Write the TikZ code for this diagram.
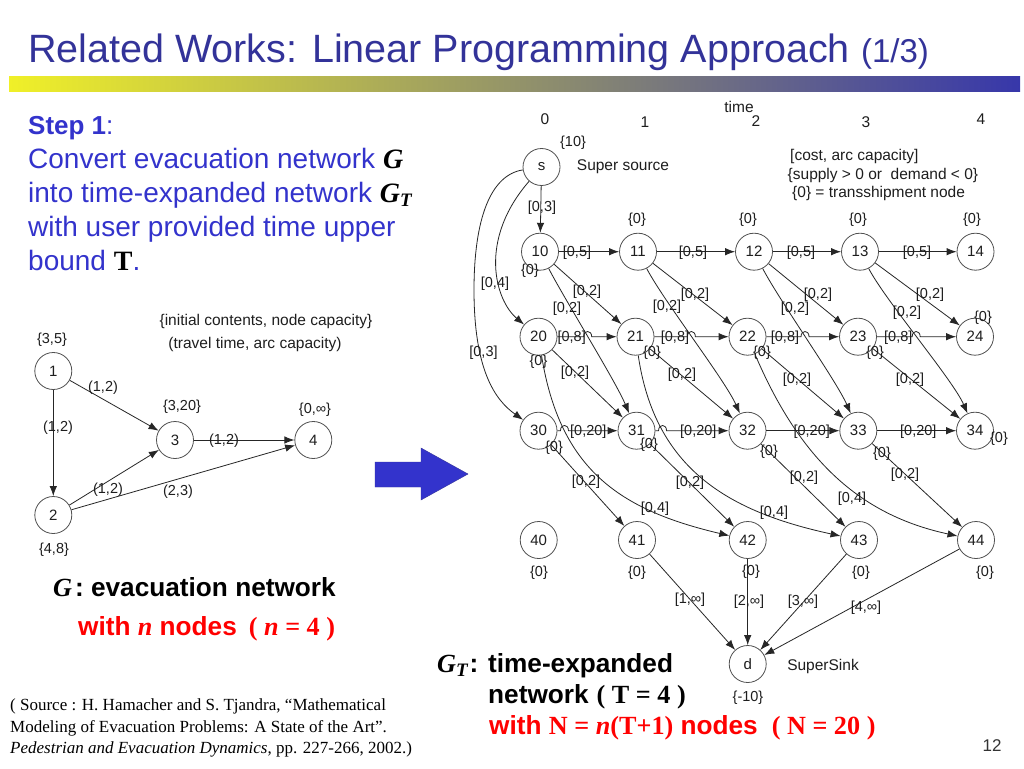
\documentclass[tikz,border=0pt]{standalone}
\usepackage{fontspec}
\setmainfont{Liberation Sans}
\newfontfamily\tms{Liberation Serif}
\usetikzlibrary{arrows.meta,calc,intersections}
\definecolor{tblue}{RGB}{51,51,153}
\definecolor{sblue}{RGB}{51,51,204}
\definecolor{gtext}{RGB}{30,30,30}
\definecolor{ncirc}{RGB}{80,80,80}
\definecolor{bred}{RGB}{255,0,0}
\definecolor{ybar}{RGB}{240,240,40}
\definecolor{mbar}{RGB}{175,175,150}
\definecolor{bbar}{RGB}{55,55,170}
\newcommand\myfs[1]{\fontsize{#1pt}{#1pt}\selectfont}
\newcommand\lb[3]{\node[lab] (#1) at (#2) {#3};}
\newcommand\GTsym{{\color{black}\tms\bfseries\itshape G\raisebox{-0.35ex}{\myfs{19}T}}}
\begin{document}
\begin{tikzpicture}[x=1pt,y=-1pt,
  nd/.style={circle,draw=ncirc,line width=0.8pt,minimum size=37pt,inner sep=0pt,font=\myfs{15},text=gtext},
  lab/.style={font=\myfs{14.5},text=gtext,inner sep=0.5pt},
  note/.style={font=\myfs{15.5},text=gtext,inner sep=0pt},
  arr/.style={-{Latex[length=10pt,width=7.5pt]},line width=0.8pt,draw=black!85},
  big/.style={anchor=base west,inner sep=0pt}]
\useasboundingbox (0,0) rectangle (1024,768);
\fill[white] (0,0) rectangle (1024,768);

% ---------- title ----------
\node[big,text=tblue,font=\myfs{39.5}] (title) at (28,63) {Related Works: Linear Programming Approach {\myfs{33}(1/3)}};
\shade[left color=ybar, middle color=mbar, right color=bbar] (9,76) rectangle (1020,91);

% ---------- step text ----------
\node[big,text=sblue,font=\myfs{26}] (step) at (28,134) {\textbf{Step 1}:};
\node[big,text=sblue,font=\myfs{28}] (b1) at (28,168) {Convert evacuation network {\color{black}\tms\bfseries\itshape G}};
\node[big,text=sblue,font=\myfs{28}] (b2) at (28,202) {into time-expanded network \GTsym};
\node[big,text=sblue,font=\myfs{28}] (b3) at (28,236) {with user provided time upper};
\node[big,text=sblue,font=\myfs{28}] (b4) at (28,270) {bound {\color{black}\tms\bfseries T}.};

% ---------- small graph G ----------
\node[nd] (g1) at (53.3,371) {1};
\node[nd] (g2) at (53.3,515) {2};
\node[nd] (g3) at (175,440) {3};
\node[nd] (g4) at (313.3,440) {4};
\draw[arr] (g1) -- (g2);
\draw[arr] (g1) -- (g3);
\draw[arr] (g3) -- (g4);
\draw[arr] (g2) -- (g3);
\draw[arr] (g2) -- (g4);
\node[note] (leg1) at (266,321) {\{initial contents, node capacity\}};
\node[note] (leg2) at (255,344) {(travel time, arc capacity)};
\lb{c1}{52,340}{\{3,5\}}
\lb{c2}{54,550}{\{4,8\}}
\lb{c3}{182,407}{\{3,20\}}
\lb{c4}{315,410}{\{0,∞\}}
\lb{e13}{103,388}{(1,2)}
\lb{e12}{58,428}{(1,2)}
\lb{e34}{224,441}{(1,2)}
\lb{e23}{108,490}{(1,2)}
\lb{e24}{178,492}{(2,3)}

% ---------- blue arrow ----------
\fill[sblue,draw=tblue] (375,462) -- (421,462) -- (421,448) -- (468,474) -- (421,500) -- (421,487) -- (375,487) -- cycle;

% ---------- time-expanded network ----------
\node[nd] (s) at (541.5,167) {s};
\node[nd] (n10) at (540,251.7) {10};
\node[nd] (n11) at (638,251.7) {11};
\node[nd] (n12) at (754,251.7) {12};
\node[nd] (n13) at (860,251.7) {13};
\node[nd] (n14) at (975.5,251.7) {14};
\node[nd] (n20) at (538.5,336.7) {20};
\node[nd] (n21) at (635.5,336.7) {21};
\node[nd] (n22) at (747.5,336.7) {22};
\node[nd] (n23) at (858,336.7) {23};
\node[nd] (n24) at (975,336.7) {24};
\node[nd] (n30) at (538.5,430.7) {30};
\node[nd] (n31) at (636.5,430.7) {31};
\node[nd] (n32) at (747.5,430.7) {32};
\node[nd] (n33) at (858.3,430.7) {33};
\node[nd] (n34) at (975,430.7) {34};
\node[nd] (n40) at (538.7,540) {40};
\node[nd] (n41) at (637,540) {41};
\node[nd] (n42) at (747.7,540) {42};
\node[nd] (n43) at (859,540) {43};
\node[nd] (n44) at (976,540) {44};
\node[nd] (d) at (747.7,664) {d};

% source arcs
\draw[arr] (s) -- (n10);
\draw[arr] (s) .. controls (478,240) and (495,300) .. (n20);
\draw[arr] (s) .. controls (490,175) and (474,220) .. (474,290) .. controls (474,370) and (495,400) .. (n30);

% row 1 holdover
\draw[arr] (n10) -- (n11);
\draw[arr] (n11) -- (n12);
\draw[arr] (n12) -- (n13);
\draw[arr] (n13) -- (n14);

% skip curves (named for bridges)
\draw[arr,name path=k1] (n10) .. controls (565,300) and (615,380) .. (n31);
\draw[arr,name path=k2] (n11) .. controls (663,300) and (725,380) .. (n32);
\draw[arr,name path=k3] (n12) .. controls (779,300) and (836,380) .. (n33);
\draw[arr,name path=k4] (n13) .. controls (885,300) and (953,380) .. (n34);
\draw[arr,name path=k5] (n20) .. controls (560,470) and (620,510) .. (n42);
\draw[arr,name path=k6] (n21) .. controls (655,470) and (730,512) .. (n43);
\draw[arr] (n22) .. controls (800,460) and (860,515) .. (n44);

\path[name path=h1] (n20) -- (n21);
\path[name path=h2] (n21) -- (n22);
\path[name path=h3] (n22) -- (n23);
\path[name path=h4] (n23) -- (n24);
\path[name path=h5] (n30) -- (n31);
\path[name path=h6] (n31) -- (n32);
\path[name intersections={of=k1 and h1,by=X1}];
\path[name intersections={of=k2 and h2,by=X2}];
\path[name intersections={of=k3 and h3,by=X3}];
\path[name intersections={of=k4 and h4,by=X4}];
\path[name intersections={of=k5 and h5,by=X5}];
\path[name intersections={of=k6 and h6,by=X6}];

% row 2 and 3 holdover with bridges
\draw[arr] (n20) -- ($(X1)+(-4,0)$) .. controls +(0,-7) and +(0,-7) .. ($(X1)+(4,0)$) -- (n21);
\draw[arr] (n21) -- ($(X2)+(-4,0)$) .. controls +(0,-7) and +(0,-7) .. ($(X2)+(4,0)$) -- (n22);
\draw[arr] (n22) -- ($(X3)+(-4,0)$) .. controls +(0,-7) and +(0,-7) .. ($(X3)+(4,0)$) -- (n23);
\draw[arr] (n23) -- ($(X4)+(-4,0)$) .. controls +(0,-7) and +(0,-7) .. ($(X4)+(4,0)$) -- (n24);
\draw[arr] (n30) -- ($(X5)+(-4,0)$) .. controls +(0,-7) and +(0,-7) .. ($(X5)+(4,0)$) -- (n31);
\draw[arr] (n31) -- ($(X6)+(-4,0)$) .. controls +(0,-7) and +(0,-7) .. ($(X6)+(4,0)$) -- (n32);
\draw[arr] (n32) -- (n33);
\draw[arr] (n33) -- (n34);

% straight diagonals
\draw[arr] (n10) -- (n21);
\draw[arr] (n11) -- (n22);
\draw[arr] (n12) -- (n23);
\draw[arr] (n13) -- (n24);
\draw[arr] (n20) -- (n31);
\draw[arr] (n21) -- (n32);
\draw[arr] (n22) -- (n33);
\draw[arr] (n23) -- (n34);
\draw[arr] (n30) -- (n41);
\draw[arr] (n31) -- (n42);
\draw[arr] (n32) -- (n43);
\draw[arr] (n33) -- (n44);

% sink arcs
\draw[arr] (n41) -- (d);
\draw[arr] (n42) -- (d);
\draw[arr] (n43) -- (d);
\draw[arr] (n44) -- (d);

% ---------- network labels ----------
\node[note] (tm) at (739,106.5) {time};
\node[note] (t0) at (545,119) {0};
\node[note] (t1) at (645,122) {1};
\node[note] (t2) at (756,121) {2};
\node[note] (t3) at (866,122) {3};
\node[note] (t4) at (981,119) {4};
\lb{sup}{573,143}{\{10\}}
\node[note] (ssrc) at (623,166.7) {Super source};
\node[note,anchor=west] (lg1) at (790,156.7) {[cost, arc capacity]};
\node[note,anchor=west] (lg2) at (787.5,175) {\{supply > 0 or \ demand < 0\}};
\node[note,anchor=west] (lg3) at (792,193.3) {\{0\} = transshipment node};

\lb{a1}{542,208}{[0,3]}
\lb{a2}{495,284}{[0,4]}
\lb{a3}{483.5,353}{[0,3]}

\lb{z11}{637,220}{\{0\}}
\lb{z12}{748,220}{\{0\}}
\lb{z13}{858,220}{\{0\}}
\lb{z14}{972,220}{\{0\}}
\lb{z10}{530,271}{\{0\}}

\lb{h11}{577,252.5}{[0,5]}
\lb{h12}{693,252.5}{[0,5]}
\lb{h13}{801,252.5}{[0,5]}
\lb{h14}{917,252.5}{[0,5]}

\lb{m1}{587,292}{[0,2]}
\lb{m2}{567,309}{[0,2]}
\lb{m3}{695,295}{[0,2]}
\lb{m4}{667,307}{[0,2]}
\lb{m5}{818,295}{[0,2]}
\lb{m6}{795,309}{[0,2]}
\lb{m7}{930,295}{[0,2]}
\lb{m8}{907,313}{[0,2]}

\lb{h21}{571.7,337.3}{[0,8]}
\lb{h22}{675,337.3}{[0,8]}
\lb{h23}{785,337.3}{[0,8]}
\lb{h24}{898.3,337.3}{[0,8]}

\lb{z20}{538.5,362}{\{0\}}
\lb{z21}{652,353}{\{0\}}
\lb{z22}{762,353}{\{0\}}
\lb{z23}{875,353}{\{0\}}
\lb{z24}{983,318}{\{0\}}

\lb{q1}{575,373}{[0,2]}
\lb{q2}{682,375}{[0,2]}
\lb{q3}{797,380}{[0,2]}
\lb{q4}{910,380}{[0,2]}

\lb{h31}{588.3,431.7}{[0,20]}
\lb{h32}{698.3,431.7}{[0,20]}
\lb{h33}{811.7,431.7}{[0,20]}
\lb{h34}{918.3,431.7}{[0,20]}

\lb{z30}{554,448}{\{0\}}
\lb{z31}{649,445}{\{0\}}
\lb{z32}{769,452}{\{0\}}
\lb{z33}{882,454}{\{0\}}
\lb{z34}{999,439}{\{0\}}

\lb{r1}{586,482}{[0,2]}
\lb{r2}{690,483}{[0,2]}
\lb{r3}{804,478}{[0,2]}
\lb{r4}{905,475}{[0,2]}
\lb{f1}{655,509}{[0,4]}
\lb{f2}{774,513}{[0,4]}
\lb{f3}{852,499}{[0,4]}

\lb{z40}{539,573}{\{0\}}
\lb{z41}{637,573}{\{0\}}
\lb{z42}{751,572}{\{0\}}
\lb{z43}{861,573}{\{0\}}
\lb{z44}{985,573}{\{0\}}

\lb{w1}{690,600}{[1,∞]}
\lb{w2}{749,602}{[2,∞]}
\lb{w3}{803,602}{[3,∞]}
\lb{w4}{866,608}{[4,∞]}
\node[note] (ssink) at (823,666.7) {SuperSink};
\lb{dm}{748,698}{\{-10\}}

% ---------- bottom texts ----------
\node[big,font=\myfs{26.2}] (gl1) at (53,596) {{\tms\bfseries\itshape G}\hspace{3pt}\textbf{: evacuation network}};
\node[big,font=\myfs{26.2},text=bred] (gl2) at (78,635) {\textbf{with} {\tms\bfseries\itshape n} \textbf{nodes}\hspace{12pt}{\tms\bfseries( {\itshape n} = 4 )}};

\node[big,font=\tms\myfs{17}] (src1) at (10,710.5) {( Source : H. Hamacher and S. Tjandra, “Mathematical};
\node[big,font=\tms\myfs{17}] (src2) at (10,732) {Modeling of Evacuation Problems: A State of the Art”.};
\node[big,font=\tms\myfs{17}] (src3) at (10,753.5) {\textit{Pedestrian and Evacuation Dynamics}, pp. 227-266, 2002.)};

\node[big,font=\myfs{26.2}] (gt1) at (437,672) {\GTsym\hspace{2pt}\textbf{: time-expanded}};
\node[big,font=\myfs{26.2}] (gt2) at (488,703) {\textbf{network}\hspace{8pt}{\tms\bfseries( T = 4 )}};
\node[big,font=\myfs{26.2},text=bred] (gt3) at (489,734) {\textbf{with} {\tms\bfseries N = {\itshape n}(T+1)} \textbf{nodes}\hspace{14pt}{\tms\bfseries( N = 20 )}};

\node[font=\myfs{17},text=black!80,inner sep=0pt] (pg) at (992,746) {12};
\end{tikzpicture}
\end{document}
